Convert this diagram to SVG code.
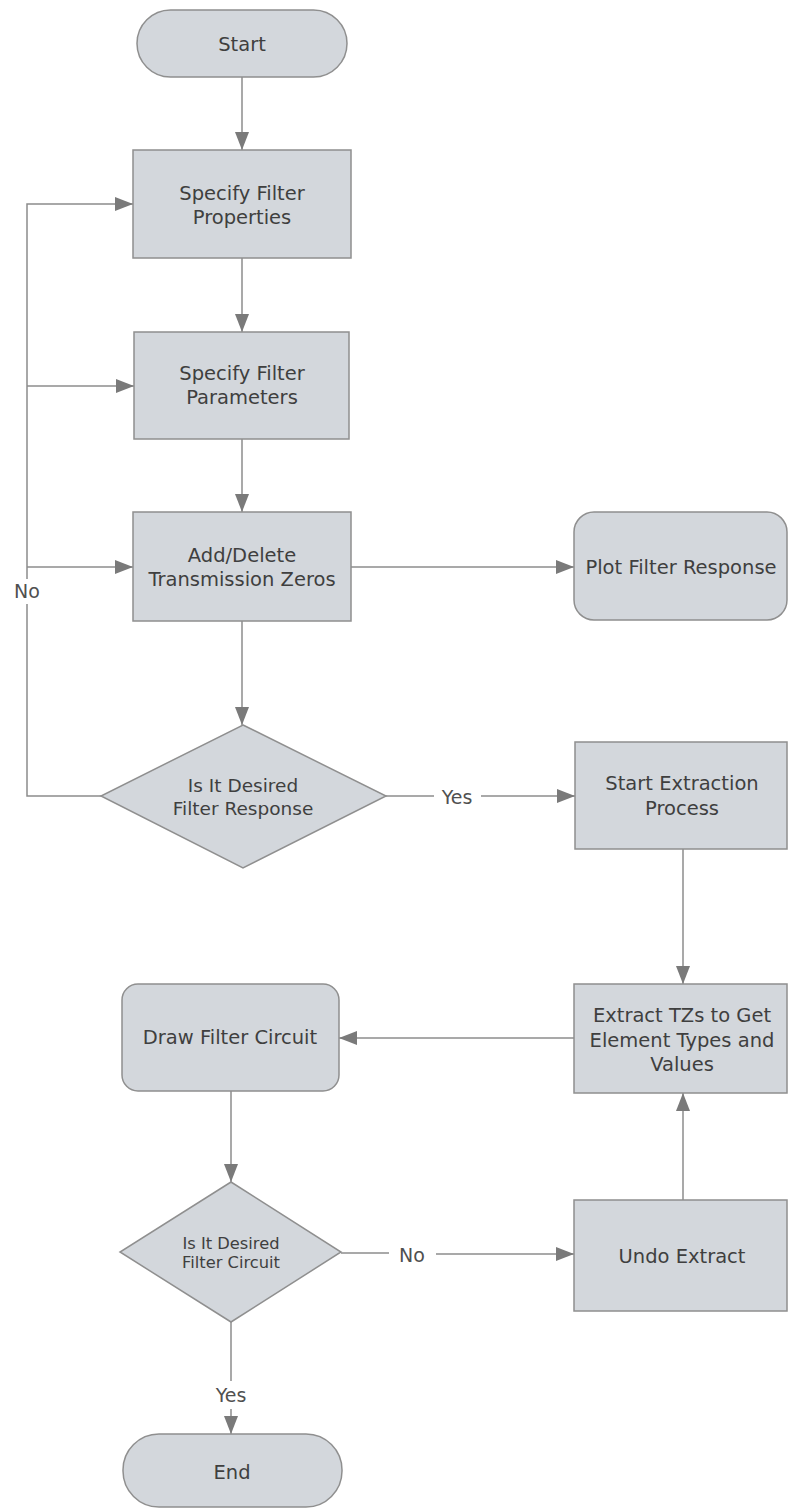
<svg xmlns="http://www.w3.org/2000/svg" width="788" height="1508" viewBox="0 0 788 1508">
  <defs>
    <marker id="arrow" markerWidth="18" markerHeight="14" refX="18" refY="7" orient="auto" markerUnits="userSpaceOnUse">
      <path d="M0,0 L18,7 L0,14 z" fill="#7a7a7a"/>
    </marker>
  </defs>
  <style>
    .shape { fill: #d3d7dc; stroke: #8f8f8f; stroke-width: 1.5; }
    .txt { font-family: "DejaVu Sans", Verdana, sans-serif; font-size: 19.5px; fill: #3f3f3f; text-anchor: middle; dominant-baseline: central; }
    .dia { font-size: 18.5px; }
    .dia2 { font-size: 16.3px; }
    .edge-label { font-family: "DejaVu Sans", Verdana, sans-serif; font-size: 19px; fill: #505050; text-anchor: middle; dominant-baseline: central; }
    .wire { fill: none; stroke: #8c8c8c; stroke-width: 1.5; }
    .arr { marker-end: url(#arrow); }
  </style>

  <rect width="788" height="1508" fill="#ffffff"/>

  <!-- connectors -->
  <g id="connectors">
    <path class="wire arr" d="M242,77 V150"/>
    <path class="wire arr" d="M242,258 V332"/>
    <path class="wire arr" d="M242,439 V512"/>
    <path class="wire arr" d="M351,567 H574"/>
    <path class="wire arr" d="M242,621 V725"/>
    <!-- "No" feedback loop on the left -->
    <path class="wire" d="M101,796 H27 V604"/>
    <path class="wire arr" d="M27,579 V204 H133"/>
    <path class="wire arr" d="M27,386 H134"/>
    <path class="wire arr" d="M27,567 H133"/>
    <!-- "Yes" to extraction -->
    <path class="wire" d="M386,796 H434"/>
    <path class="wire arr" d="M481,796 H575"/>
    <path class="wire arr" d="M683,849 V984"/>
    <path class="wire arr" d="M574,1038 H339"/>
    <path class="wire arr" d="M231,1091 V1182"/>
    <!-- circuit check -->
    <path class="wire" d="M341,1253 H389"/>
    <path class="wire arr" d="M436,1254 H574"/>
    <path class="wire arr" d="M683,1200 V1093"/>
    <path class="wire" d="M231,1322 V1381"/>
    <path class="wire arr" d="M231,1409 V1434"/>
    <text class="edge-label" x="27" y="591">No</text>
    <text class="edge-label" x="457" y="797">Yes</text>
    <text class="edge-label" x="412" y="1255">No</text>
    <text class="edge-label" x="231" y="1395">Yes</text>
  </g>

  <g id="start">
    <rect class="shape" x="137" y="10" width="210" height="67" rx="33.5"/>
    <text class="txt" x="242" y="44">Start</text>
  </g>

  <g id="specify-properties">
    <rect class="shape" x="133" y="150" width="218" height="108"/>
    <text class="txt" x="242" y="193">Specify Filter</text>
    <text class="txt" x="242" y="217">Properties</text>
  </g>

  <g id="specify-parameters">
    <rect class="shape" x="134" y="332" width="215" height="107"/>
    <text class="txt" x="242" y="373">Specify Filter</text>
    <text class="txt" x="242" y="397">Parameters</text>
  </g>

  <g id="transmission-zeros">
    <rect class="shape" x="133" y="512" width="218" height="109"/>
    <text class="txt" x="242" y="555">Add/Delete</text>
    <text class="txt" x="242" y="579">Transmission Zeros</text>
  </g>

  <g id="plot-response">
    <rect class="shape" x="574" y="512" width="213" height="108" rx="20"/>
    <text class="txt" x="681" y="567">Plot Filter Response</text>
  </g>

  <g id="response-check">
    <polygon class="shape" points="243,725 386,796 243,868 101,796"/>
    <text class="txt dia" x="243" y="785">Is It Desired</text>
    <text class="txt dia" x="243" y="808">Filter Response</text>
  </g>

  <g id="start-extraction">
    <rect class="shape" x="575" y="742" width="212" height="107"/>
    <text class="txt" x="682" y="783">Start Extraction</text>
    <text class="txt" x="682" y="808">Process</text>
  </g>

  <g id="extract-tzs">
    <rect class="shape" x="574" y="984" width="213" height="109"/>
    <text class="txt" x="682" y="1015">Extract TZs to Get</text>
    <text class="txt" x="682" y="1040">Element Types and</text>
    <text class="txt" x="682" y="1064">Values</text>
  </g>

  <g id="draw-circuit">
    <rect class="shape" x="122" y="984" width="217" height="107" rx="16"/>
    <text class="txt" x="230" y="1037">Draw Filter Circuit</text>
  </g>

  <g id="circuit-check">
    <polygon class="shape" points="231,1182 341,1252 231,1322 120,1252"/>
    <text class="txt dia2" x="231" y="1243">Is It Desired</text>
    <text class="txt dia2" x="231" y="1262">Filter Circuit</text>
  </g>

  <g id="undo-extract">
    <rect class="shape" x="574" y="1200" width="213" height="111"/>
    <text class="txt" x="682" y="1256">Undo Extract</text>
  </g>

  <g id="end">
    <rect class="shape" x="123" y="1434" width="219" height="73" rx="36"/>
    <text class="txt" x="232" y="1472">End</text>
  </g>
</svg>
